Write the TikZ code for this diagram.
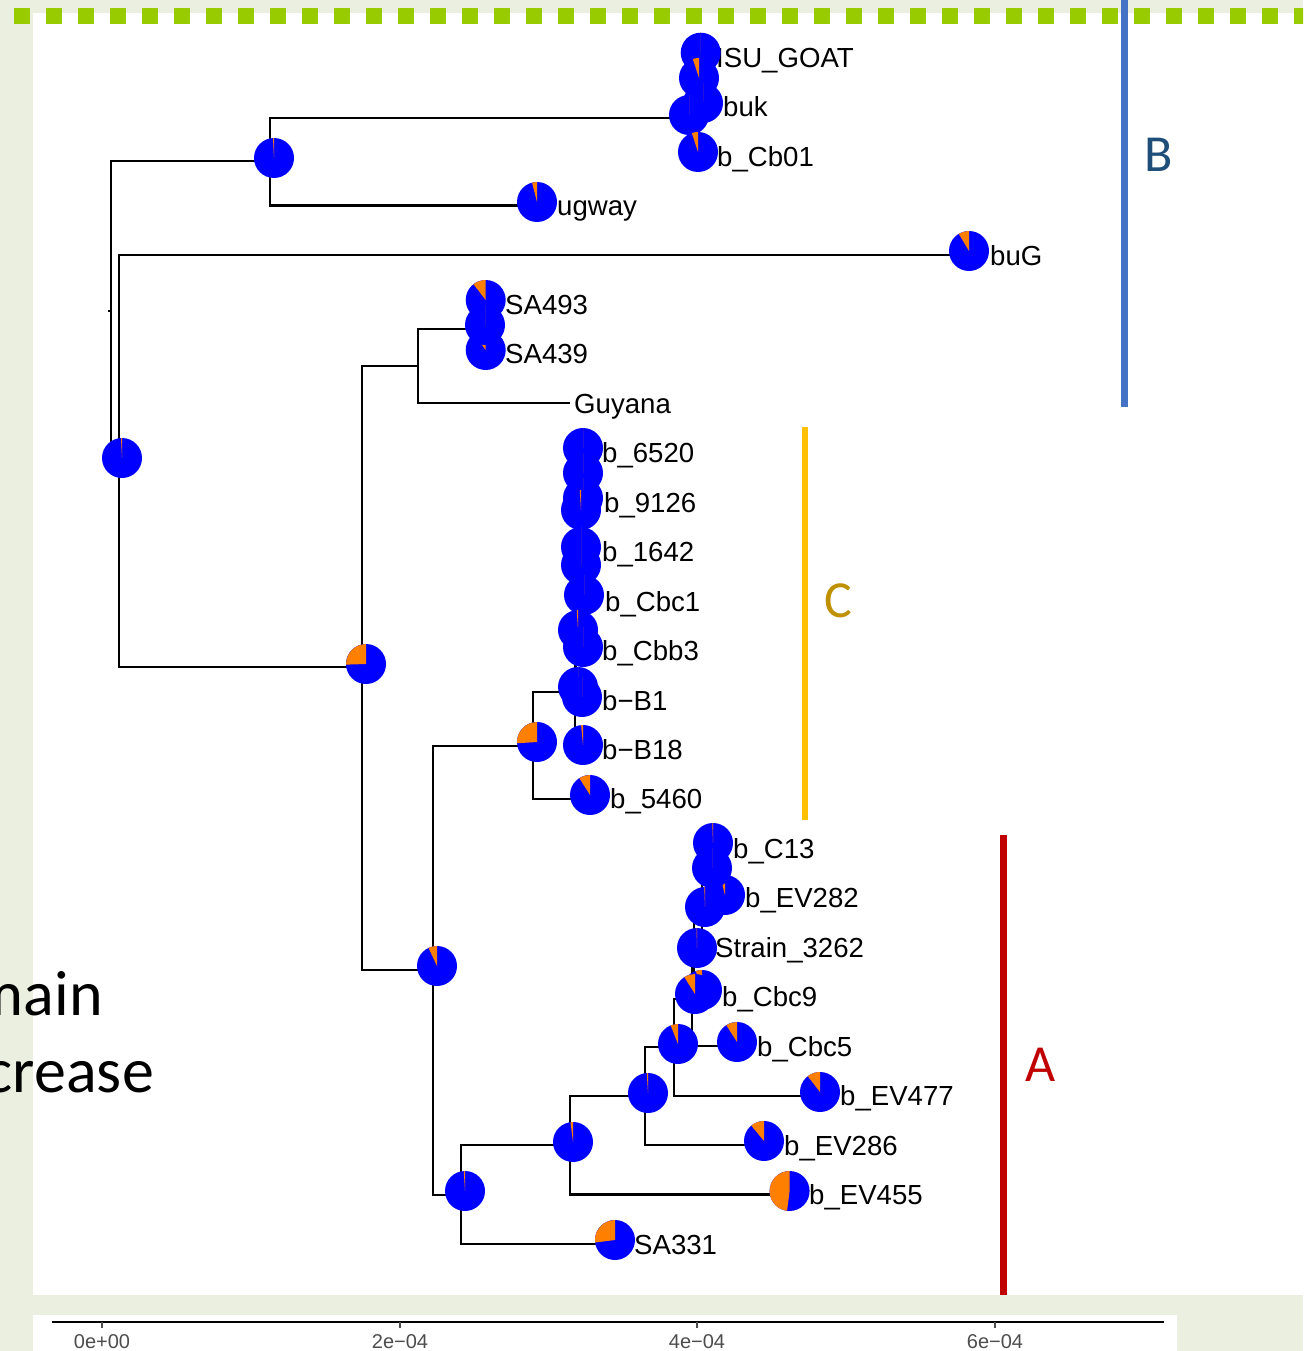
\documentclass[tikz,border=0pt]{standalone}
\usepackage{fontspec}
\setmainfont{Liberation Sans}
\newfontfamily\calibfont{Carlito}
\definecolor{bgbeige}{RGB}{235,239,223}
\definecolor{dashgreen}{RGB}{153,204,0}
\definecolor{pieblue}{RGB}{0,0,255}
\definecolor{pieorange}{RGB}{255,127,0}
\definecolor{barblue}{RGB}{68,114,196}
\definecolor{textblue}{RGB}{31,78,121}
\definecolor{baryellow}{RGB}{255,192,0}
\definecolor{textgold}{RGB}{191,144,0}
\definecolor{cladered}{RGB}{192,0,0}
\definecolor{axisgray}{RGB}{77,77,77}
\newcommand{\treepie}[3]{%
  \fill[pieblue] (#1,#2) circle[radius=20pt];
  \fill[pieorange] (#1,#2) -- ++(0pt,20pt) arc[start angle=90, delta angle=360*#3, radius=20pt] -- cycle;}
\begin{document}
\begin{tikzpicture}[x=1pt,y=-1pt,
  edge/.style={line width=2.1pt, line join=miter},
  lab/.style={anchor=base west, inner sep=0pt, font=\fontsize{27.6}{32}\selectfont},
  ticklab/.style={anchor=base, inner sep=0pt, text=axisgray, font=\fontsize{20}{24}\selectfont},
  clade/.style={inner sep=0pt, font=\calibfont\fontsize{52}{60}\selectfont},
  bigtext/.style={anchor=base east, inner sep=0pt, font=\calibfont\fontsize{64}{77}\selectfont},
]
\useasboundingbox (0,0) rectangle (1303,1351);
\clip (0,0) rectangle (1303,1351);
% background
\fill[bgbeige] (0,0) rectangle (1303,1351);
\fill[white] (33,13) rectangle (1303,1295);
\fill[white] (33,1315) rectangle (1177,1351);
\foreach \k in {0,...,40} \fill[dashgreen] ({14+32*\k},8) rectangle ({30+32*\k},24);

% big slide text (cut at the left edge, as in the reference)
\node[bigtext] (tmain) at (103,1015) {main};
\node[bigtext] (tcrease) at (154,1092) {crease};

% tree coordinates
\coordinate (r0s) at (108,311);
\coordinate (r0) at (111,311);
\coordinate (n1) at (270,161);
\coordinate (n2) at (119,460);
\coordinate (n3) at (689,118);
\coordinate (n4) at (697,82);
\coordinate (tISU) at (700,57.2);
\coordinate (tbuk) at (703,106.6);
\coordinate (tCb01) at (697,156.1);
\coordinate (tugway) at (537,205.5);
\coordinate (tbuG) at (969,255);
\coordinate (n5) at (362,667);
\coordinate (n6) at (418,366);
\coordinate (n8) at (480,329);
\coordinate (tSA493) at (485,304.4);
\coordinate (tSA439) at (486,353.9);
\coordinate (tGuy) at (570,403.3);
\coordinate (n7) at (433,970);
\coordinate (n9) at (533,746);
\coordinate (n11) at (575,692);
\coordinate (cE) at (576,652);
\coordinate (cD) at (577,605);
\coordinate (cC) at (579,558);
\coordinate (cB) at (579,515);
\coordinate (cA) at (580,478);
\coordinate (t6520) at (583,452.8);
\coordinate (t9126) at (583,502.2);
\coordinate (t1642) at (581,551.7);
\coordinate (tCbc1) at (584,601.1);
\coordinate (tCbb3) at (583,650.6);
\coordinate (tB1) at (582,700);
\coordinate (tB18) at (583,749.5);
\coordinate (t5460) at (590,798.9);
\coordinate (n10) at (461,1195);
\coordinate (n12) at (570,1145);
\coordinate (tSA331) at (615,1244);
\coordinate (n13) at (645,1096);
\coordinate (tEV455) at (789,1194.5);
\coordinate (n14) at (674,1047);
\coordinate (tEV286) at (764,1145.1);
\coordinate (n15) at (692,999);
\coordinate (tEV477) at (820,1095.6);
\coordinate (n16) at (694,952);
\coordinate (tCbc5) at (737,1046.2);
\coordinate (n17) at (702,907);
\coordinate (tCbc9) at (702,996.7);
\coordinate (n18) at (710,868);
\coordinate (tStrain) at (697,947.3);
\coordinate (tC13) at (713,848.4);
\coordinate (tEV282) at (725,897.8);

% edges
\draw[edge] (r0s) -- (r0);
\draw[edge] (r0) |- (n1);  \draw[edge] (r0) |- (n2);
\draw[edge] (n1) |- (n3);  \draw[edge] (n1) |- (tugway);
\draw[edge] (n3) |- (n4);  \draw[edge] (n3) |- (tCb01);
\draw[edge] (n4) |- (tISU); \draw[edge] (n4) |- (tbuk);
\draw[edge] (n2) |- (tbuG); \draw[edge] (n2) |- (n5);
\draw[edge] (n5) |- (n6);  \draw[edge] (n5) |- (n7);
\draw[edge] (n6) |- (n8);  \draw[edge] (n6) |- (tGuy);
\draw[edge] (n8) |- (tSA493); \draw[edge] (n8) |- (tSA439);
\draw[edge] (n7) |- (n9);  \draw[edge] (n7) |- (n10);
\draw[edge] (n9) |- (n11); \draw[edge] (n9) |- (t5460);
\draw[edge] (n11) |- (cE); \draw[edge] (n11) |- (tB18);
\draw[edge] (cE) |- (cD);  \draw[edge] (cE) |- (tB1);
\draw[edge] (cD) |- (cC);  \draw[edge] (cD) |- (tCbb3);
\draw[edge] (cC) |- (cB);  \draw[edge] (cC) |- (tCbc1);
\draw[edge] (cB) |- (cA);  \draw[edge] (cB) |- (t1642);
\draw[edge] (cA) |- (t6520); \draw[edge] (cA) |- (t9126);
\draw[edge] (n10) |- (n12); \draw[edge] (n10) |- (tSA331);
\draw[edge] (n12) |- (n13); \draw[edge] (n12) |- (tEV455);
\draw[edge] (n13) |- (n14); \draw[edge] (n13) |- (tEV286);
\draw[edge] (n14) |- (n15); \draw[edge] (n14) |- (tEV477);
\draw[edge] (n15) |- (n16); \draw[edge] (n15) |- (tCbc5);
\draw[edge] (n16) |- (n17); \draw[edge] (n16) |- (tCbc9);
\draw[edge] (n17) |- (n18); \draw[edge] (n17) |- (tStrain);
\draw[edge] (n18) |- (tC13); \draw[edge] (n18) |- (tEV282);

% tip labels
\node[lab] (lISU) at (716,67.2) {ISU\_GOAT};
\node[lab] (lbuk) at (723,116.6) {buk};
\node[lab] (lCb01) at (717,166.1) {b\_Cb01};
\node[lab] (lugway) at (557,215.5) {ugway};
\node[lab] (lbuG) at (990,265) {buG};
\node[lab] (lSA493) at (505,314.4) {SA493};
\node[lab] (lSA439) at (505,363.9) {SA439};
\node[lab] (lGuy) at (574,413.3) {Guyana};
\node[lab] (l6520) at (602,462.8) {b\_6520};
\node[lab] (l9126) at (604,512.2) {b\_9126};
\node[lab] (l1642) at (602,561.7) {b\_1642};
\node[lab] (lCbc1) at (605,611.1) {b\_Cbc1};
\node[lab] (lCbb3) at (602,660.6) {b\_Cbb3};
\node[lab] (lB1) at (602,710) {b−B1};
\node[lab] (lB18) at (602,759.5) {b−B18};
\node[lab] (l5460) at (610,808.9) {b\_5460};
\node[lab] (lC13) at (733,858.4) {b\_C13};
\node[lab] (lEV282) at (745,907.8) {b\_EV282};
\node[lab] (lStrain) at (715,957.3) {Strain\_3262};
\node[lab] (lCbc9) at (722,1006.7) {b\_Cbc9};
\node[lab] (lCbc5) at (757,1056.2) {b\_Cbc5};
\node[lab] (lEV477) at (840,1105.6) {b\_EV477};
\node[lab] (lEV286) at (784,1155.1) {b\_EV286};
\node[lab] (lEV455) at (809,1204.5) {b\_EV455};
\node[lab] (lSA331) at (634,1254) {SA331};

% pies
\treepie{274}{158}{0.008}
\treepie{122}{458}{0.008}
\treepie{700.7}{52.7}{0}
\treepie{699}{78}{0.05}
\treepie{703}{103}{0}
\treepie{689}{115}{0}
\treepie{698}{152}{0.05}
\treepie{537}{202}{0.04}
\treepie{969}{251}{0.086}
\treepie{366}{664}{0.255}
\treepie{485.7}{300}{0.105}
\treepie{485.7}{350}{0.10}
\treepie{485}{325}{0}
\treepie{583}{448}{0}
\treepie{583}{473}{0}
\treepie{583}{498}{0}
\treepie{581}{510}{0.01}
\treepie{581}{547}{0}
\treepie{581}{565}{0}
\treepie{584}{595}{0}
\treepie{578}{630}{0.01}
\treepie{583}{647}{0}
\treepie{578}{687}{0}
\treepie{582}{697}{0}
\treepie{583}{745}{0.015}
\treepie{590}{795}{0.09}
\treepie{537}{742}{0.26}
\treepie{437}{966}{0.07}
\treepie{725}{895}{0.04}
\treepie{713}{843}{0.006}
\treepie{712}{868}{0}
\treepie{705}{907}{0.006}
\treepie{697}{948}{0.004}
\treepie{702}{990}{0.05}
\treepie{695}{994}{0.09}
\treepie{678}{1044}{0.06}
\treepie{737}{1042}{0.09}
\treepie{820}{1092}{0.105}
\treepie{648}{1093}{0.01}
\treepie{764}{1141}{0.11}
\treepie{573}{1142}{0.02}
\treepie{789.6}{1191}{0.48}
\treepie{465}{1191}{0.01}
\treepie{615}{1240}{0.27}

% clade bars and letters
\coordinate (bBa) at (1124.5,0);   \coordinate (bBb) at (1124.5,407);
\coordinate (bCa) at (804.7,427);  \coordinate (bCb) at (804.7,820);
\coordinate (bAa) at (1003,835);   \coordinate (bAb) at (1003,1295);
\draw[barblue, line width=7pt] (bBa) -- (bBb);
\draw[baryellow, line width=6pt] (bCa) -- (bCb);
\draw[cladered, line width=7pt] (bAa) -- (bAb);
\node[clade, text=textblue] (cladeB) at (1158.5,155) {B};
\node[clade, text=textgold] (cladeC) at (838,601) {C};
\node[clade, text=cladered] (cladeA) at (1040.5,1065) {A};

% axis
\coordinate (axL) at (52,1321.7);
\coordinate (axR) at (1164,1321.7);
\draw[line width=2pt] (axL) -- (axR);
\foreach \xx/\tl in {102/0e+00, 400/2e−04, 697/4e−04, 995/6e−04}{
  \draw[line width=1.6pt, axisgray] (\xx,1321.7) -- (\xx,1327.5);
  \node[ticklab] at (\xx,1348) {\tl};
}
\end{tikzpicture}
\end{document}
